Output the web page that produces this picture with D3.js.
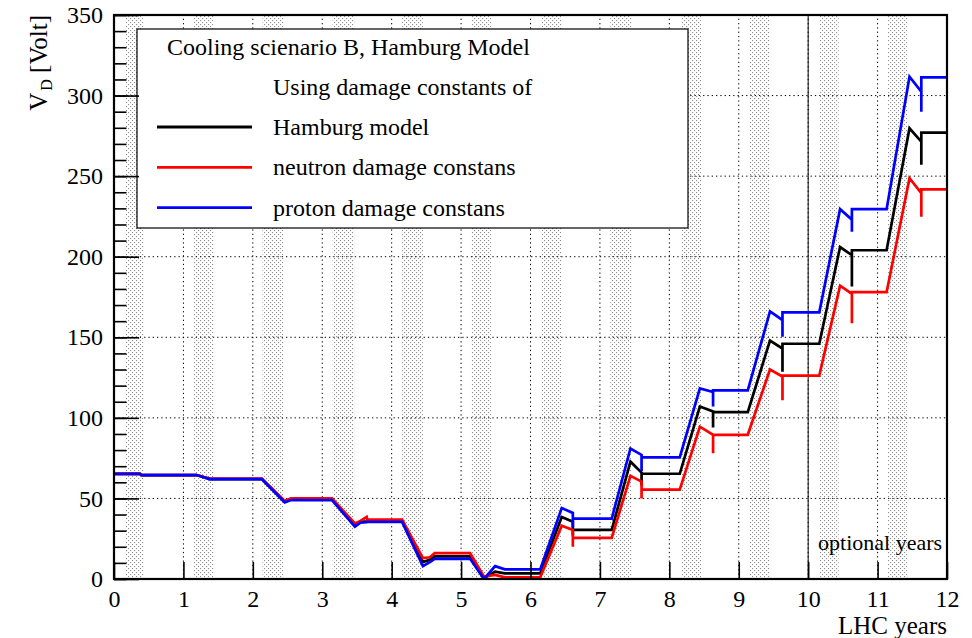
<!DOCTYPE html>
<html>
<head>
<meta charset="utf-8">
<script src="https://cdn.jsdelivr.net/npm/d3@7"></script>
<style>
  html, body { margin: 0; padding: 0; background: #fff; }
  svg { display: block; }
  svg text { font-family: "Liberation Serif", "Times New Roman", serif; fill: #000; }
</style>
</head>
<body>
<svg id="chart" width="972" height="638"></svg>
<script>
// Breakpoints in LHC years shared by the three depletion-voltage curves
const years = [
  0, 0.37, 0.40, 1.19, 1.38, 2.13, 2.46, 2.55, 3.14, 3.47, 3.55, 3.64, 3.65, 4.15,
  4.45, 4.55, 4.62, 5.13, 5.33, 5.49, 5.63, 6.14, 6.45, 6.61, 6.61, 6.61, 7.17,
  7.44, 7.60, 7.60, 7.60, 8.15, 8.44, 8.63, 8.63, 8.63, 9.13, 9.45, 9.63, 9.63,
  9.63, 10.16, 10.46, 10.63, 10.63, 10.63, 11.13, 11.46, 11.63, 11.63, 11.63, 12
];
// V_D [Volt] with Hamburg model damage constants
const hamburgV = [
  65.2, 65.2, 64.5, 64.5, 62, 62, 48, 49.5, 49.5, 33.5, 35.5, 35.8, 36, 36,
  10.5, 12, 14, 14, 0.5, 4.5, 3.5, 3.5, 38.5, 35.6, 27, 30.5, 30.5,
  72.8, 66, 58, 65.3, 65.3, 107, 104, 94, 103.5, 103.5, 148, 143, 128.6,
  146, 146, 206, 201, 181.5, 204, 204, 279.7, 271.4, 257, 277, 277
];
// V_D [Volt] with neutron damage constants
const neutronV = [
  65.2, 65.2, 64.5, 64.5, 62.3, 62.3, 48.5, 50, 50, 34.5, 36, 38.5, 36.8, 36.8,
  13, 13.5, 16, 16, 1.5, 2.5, 1, 1, 33, 30.4, 20, 25.5, 25.5,
  64, 60.5, 50, 55.5, 55.5, 94.5, 89.5, 78, 89.5, 89.5, 130, 125.6, 111,
  126.2, 126.2, 182, 177, 158.7, 178, 178, 248.7, 239.4, 224.8, 241.8, 241.8
];
// V_D [Volt] with proton damage constants
const protonV = [
  65.2, 65.2, 64.5, 64.5, 62, 62, 47.5, 49, 49, 32.5, 35, 35.2, 35.4, 35.4,
  8, 10.5, 12.5, 12.5, 0, 8, 6, 6, 44, 41, 32, 37.5, 37.5,
  81, 77, 67, 75.5, 75.5, 118.3, 116, 107, 117, 117, 166, 160.7, 150.4,
  165.5, 165.5, 229.5, 223, 215.5, 229.5, 229.5, 311.7, 302.4, 290, 311.3, 311.3
];
// Beam periods of each LHC year (shaded bands)
const beamStart = [0.16, 1.15, 2.14, 3.15, 4.15, 5.15, 6.15, 7.15, 8.17, 9.16, 10.16, 11.15];
const beamEnd   = [0.43, 1.44, 2.45, 3.46, 4.45, 5.44, 6.45, 7.46, 8.46, 9.45, 10.44, 11.44];

const xTicks = d3.range(0, 13);
const yTicks = d3.range(0, 351, 50);
const yMinorTicks = d3.range(0, 351, 10);

const series = [
  { name: "Hamburg model", values: hamburgV, color: "#000000" },
  { name: "neutron damage constans", values: neutronV, color: "#ff0000" },
  { name: "proton damage constans", values: protonV, color: "#0000ff" }
];

const svg = d3.select("#chart");
const W = 972, H = 638;
const m = { left: 114, right: 25, top: 15, bottom: 59 };
const x = d3.scaleLinear().domain([0, 12]).range([m.left, W - m.right]);
const y = d3.scaleLinear().domain([0, 350]).range([H - m.bottom, m.top]);
const serif = '"Liberation Serif", "Times New Roman", serif';

svg.append("rect").attr("width", W).attr("height", H).attr("fill", "#fff");

// Stipple pattern for the beam bands
const defs = svg.append("defs");
const pat = defs.append("pattern")
  .attr("id", "stipple").attr("patternUnits", "userSpaceOnUse")
  .attr("width", 4).attr("height", 4);
pat.append("rect").attr("x", 0).attr("y", 0).attr("width", 1.1).attr("height", 1.1).attr("fill", "#8c8c8c");
pat.append("rect").attr("x", 2).attr("y", 2).attr("width", 1.1).attr("height", 1.1).attr("fill", "#8c8c8c");

defs.append("clipPath").attr("id", "plotClip")
  .append("rect").attr("x", m.left).attr("y", m.top)
  .attr("width", x(12) - x(0)).attr("height", y(0) - y(350));

const plot = svg.append("g");

plot.selectAll("rect.band").data(beamStart).join("rect")
  .attr("class", "band")
  .attr("x", (d) => x(d)).attr("y", y(350))
  .attr("width", (d, i) => x(beamEnd[i]) - x(d))
  .attr("height", y(0) - y(350))
  .attr("fill", "url(#stipple)");

// Dotted grid
plot.selectAll("line.gx").data(xTicks.slice(1, -1)).join("line")
  .attr("x1", (d) => x(d)).attr("x2", (d) => x(d))
  .attr("y1", y(0)).attr("y2", y(350))
  .attr("stroke", "#000").attr("stroke-width", 1).attr("stroke-dasharray", "1.3,3");
plot.selectAll("line.gy").data(yTicks.slice(1, -1)).join("line")
  .attr("x1", x(0)).attr("x2", x(12))
  .attr("y1", (d) => y(d)).attr("y2", (d) => y(d))
  .attr("stroke", "#000").attr("stroke-width", 1).attr("stroke-dasharray", "1.3,3");

// Start of optional years
plot.append("line")
  .attr("x1", x(10)).attr("x2", x(10)).attr("y1", y(0)).attr("y2", y(350))
  .attr("stroke", "#000").attr("stroke-width", 1);

plot.append("text")
  .attr("x", x(11.93)).attr("y", 550)
  .attr("text-anchor", "end").attr("font-size", 22)
  .text("optional years");

// Curves
const line = d3.line().x((d) => x(d[0])).y((d) => y(d[1]));
const curves = svg.append("g").attr("clip-path", "url(#plotClip)");
series.forEach((s) => {
  curves.append("path")
    .datum(years.map((t, i) => [t, s.values[i]]))
    .attr("d", line)
    .attr("fill", "none")
    .attr("stroke", s.color)
    .attr("stroke-width", 2.7)
    .attr("stroke-linejoin", "miter");
});

// Legend
const lg = svg.append("g");
lg.append("rect")
  .attr("x", 137).attr("y", 29).attr("width", 551).attr("height", 199)
  .attr("fill", "#fff").attr("stroke", "#000").attr("stroke-width", 1.2);
lg.append("text").attr("x", 167).attr("y", 55).attr("font-size", 24)
  .text("Cooling scienario B, Hamburg Model");
lg.append("text").attr("x", 273).attr("y", 95).attr("font-size", 24)
  .text("Using damage constants of");
series.forEach((s, i) => {
  const cy = 127 + i * 40.3;
  lg.append("line").attr("x1", 157).attr("x2", 252).attr("y1", cy).attr("y2", cy)
    .attr("stroke", s.color).attr("stroke-width", 2.8);
  lg.append("text").attr("x", 273).attr("y", cy + 8).attr("font-size", 24).text(s.name);
});

// Axes
const xAxis = d3.axisBottom(x).tickValues(xTicks).tickSize(-17).tickPadding(11).tickFormat(d3.format("d"));
const gx = svg.append("g").attr("transform", `translate(0,${y(0)})`).call(xAxis);
gx.select(".domain").remove();
gx.attr("font-family", serif).attr("font-size", 24);
gx.selectAll("text").attr("fill", "#000");
gx.selectAll("line").attr("stroke-width", 1.6);

const yMinor = d3.axisLeft(y).tickValues(yMinorTicks).tickSize(-12.5).tickFormat("");
const gym = svg.append("g").attr("transform", `translate(${x(0)},0)`).call(yMinor);
gym.select(".domain").remove();
gym.selectAll("line").attr("stroke-width", 1.6);

const yAxis = d3.axisLeft(y).tickValues(yTicks).tickSize(-25).tickPadding(11).tickFormat(d3.format("d"));
const gy = svg.append("g").attr("transform", `translate(${x(0)},0)`).call(yAxis);
gy.select(".domain").remove();
gy.attr("font-family", serif).attr("font-size", 24);
gy.selectAll("text").attr("fill", "#000");
gy.selectAll("line").attr("stroke-width", 1.6);

// Frame
svg.append("rect")
  .attr("x", x(0)).attr("y", y(350))
  .attr("width", x(12) - x(0)).attr("height", y(0) - y(350))
  .attr("fill", "none").attr("stroke", "#000").attr("stroke-width", 2.2);

// Axis titles
svg.append("text")
  .attr("x", x(12)).attr("y", 634)
  .attr("text-anchor", "end").attr("font-size", 25)
  .text("LHC years");

const yt = svg.append("text")
  .attr("transform", `translate(47,${y(350)}) rotate(-90)`)
  .attr("text-anchor", "end").attr("font-size", 25);
yt.append("tspan").text("V");
yt.append("tspan").attr("font-size", 16).attr("dx", 2).attr("dy", 5).text("D");
yt.append("tspan").attr("dy", -5).text(" [Volt]");
</script>
</body>
</html>
